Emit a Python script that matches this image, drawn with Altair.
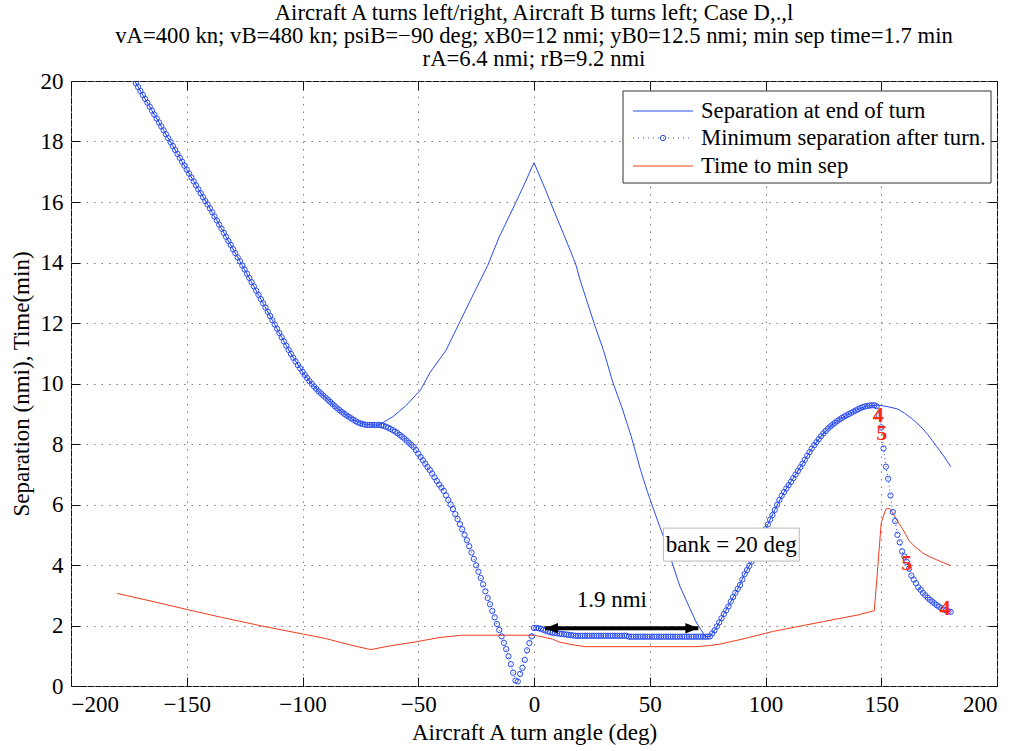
import altair as alt
import pandas as pd

FONT = "'Liberation Serif', 'Times New Roman', Times, 'Nimbus Roman', 'DejaVu Serif', serif"
BLUE = "#2a4cf0"
RED = "#f03c1e"
FS = 23

# ---------------- data ----------------
# Minimum separation after turn (circles), one value per degree from -172 to 180
ms_x = list(range(-172, 181))
ms_y = [
    19.93, 19.80, 19.67, 19.54, 19.41, 19.28, 19.15, 19.02, 18.89, 18.76, 18.63, 18.50, 18.37, 18.24, 18.11,
    17.98, 17.85, 17.72, 17.59, 17.46, 17.33, 17.20, 17.07, 16.94, 16.81, 16.68, 16.55, 16.42, 16.29, 16.16,
    16.03, 15.92, 15.79, 15.66, 15.52, 15.39, 15.25, 15.12, 14.98, 14.85, 14.71, 14.58, 14.44, 14.31, 14.17,
    14.04, 13.90, 13.77, 13.63, 13.49, 13.35, 13.21, 13.07, 12.93, 12.79, 12.65, 12.51, 12.37, 12.23, 12.09,
    11.95, 11.81, 11.67, 11.53, 11.39, 11.25, 11.11, 10.98, 10.85, 10.73, 10.61, 10.50, 10.39, 10.28, 10.18,
    10.08, 9.99, 9.90, 9.82, 9.74, 9.67, 9.60, 9.53, 9.46, 9.39, 9.32, 9.25, 9.18, 9.12, 9.06,
    9.00, 8.95, 8.90, 8.85, 8.80, 8.75, 8.71, 8.68, 8.66, 8.64, 8.63, 8.63, 8.63, 8.63, 8.63,
    8.63, 8.62, 8.60, 8.57, 8.54, 8.50, 8.46, 8.41, 8.36, 8.30, 8.24, 8.18, 8.11, 8.04, 7.97,
    7.90, 7.80, 7.68, 7.57, 7.46, 7.35, 7.24, 7.14, 7.02, 6.90, 6.78, 6.66, 6.56, 6.45, 6.30,
    6.15, 6.00, 5.85, 5.68, 5.52, 5.35, 5.18, 5.00, 4.82, 4.62, 4.41, 4.20, 3.99, 3.78, 3.57,
    3.36, 3.13, 2.91, 2.70, 2.48, 2.27, 2.05, 1.85, 1.64, 1.43, 1.22, 0.98, 0.72, 0.44, 0.18,
    0.15, 0.40, 0.60, 0.86, 1.18, 1.42, 1.64, 1.92, 1.92, 1.91, 1.89, 1.86, 1.83, 1.80, 1.78,
    1.76, 1.75, 1.74, 1.73, 1.72, 1.71, 1.70, 1.69, 1.68, 1.67, 1.66, 1.66, 1.66, 1.66, 1.66,
    1.66, 1.66, 1.66, 1.66, 1.66, 1.66, 1.66, 1.66, 1.66, 1.66, 1.66, 1.66, 1.66, 1.66, 1.66,
    1.66, 1.66, 1.66, 1.63, 1.63, 1.63, 1.63, 1.63, 1.63, 1.63, 1.63, 1.63, 1.63, 1.63, 1.63,
    1.63, 1.63, 1.63, 1.63, 1.63, 1.63, 1.63, 1.63, 1.63, 1.63, 1.63, 1.63, 1.63, 1.63, 1.63,
    1.63, 1.63, 1.63, 1.63, 1.63, 1.63, 1.63, 1.63, 1.64, 1.74, 1.84, 1.97, 2.10, 2.24, 2.38,
    2.50, 2.63, 2.79, 2.94, 3.08, 3.21, 3.34, 3.52, 3.70, 3.83, 3.97, 4.11, 4.29, 4.47, 4.65,
    4.83, 5.00, 5.18, 5.34, 5.50, 5.65, 5.82, 5.99, 6.15, 6.29, 6.41, 6.53, 6.64, 6.75, 6.87,
    6.99, 7.11, 7.23, 7.35, 7.48, 7.61, 7.73, 7.85, 7.96, 8.06, 8.16, 8.26, 8.35, 8.43, 8.51,
    8.58, 8.64, 8.70, 8.76, 8.81, 8.86, 8.91, 8.95, 8.99, 9.03, 9.07, 9.11, 9.15, 9.19, 9.22,
    9.24, 9.26, 9.27, 9.28, 9.28, 9.25, 8.95, 8.55, 7.85, 7.25, 6.85, 6.30, 5.75, 5.45, 5.00,
    4.75, 4.45, 4.28, 4.10, 3.88, 3.65, 3.52, 3.40, 3.26, 3.18, 3.08, 3.00, 2.92, 2.85, 2.79,
    2.73, 2.67, 2.62, 2.57, 2.53, 2.50, 2.47, 2.45,
]

# Separation at end of turn (solid blue line)
se_x = [-174, -172, -165, -157, -150, -141, -135, -126, -120, -112, -105, -100, -97, -93, -89,
        -85, -81, -77, -74, -70, -67, -61, -55, -49, -45, -38, -32, -26, -20, -15, -9, -5, 0,
        5, 10, 13, 18, 20, 26, 30, 34, 38, 42, 46, 49, 53, 56, 60, 63, 67, 70, 74, 76, 78, 80,
        82, 85, 88, 91, 94, 97, 100, 104, 108, 112, 116, 120, 124, 128, 132, 136, 140, 144, 148,
        150, 153, 157, 160, 163, 165, 168, 170, 172, 174, 177, 180]
se_y = [20.19, 19.93, 19.02, 17.98, 17.07, 15.92, 15.12, 13.90, 13.07, 11.95, 10.98, 10.39, 10.08, 9.74, 9.46,
        9.18, 8.95, 8.75, 8.66, 8.63, 8.63, 8.90, 9.29, 9.79, 10.35, 11.10, 12.04, 12.98, 13.90, 14.85, 15.80, 16.45, 17.30,
        16.40, 15.45, 14.90, 13.95, 13.40, 11.98, 11.10, 10.05, 9.20, 8.25, 7.15, 6.42, 5.55, 4.92, 4.00, 3.30, 2.62, 2.12, 1.63, 1.64, 1.84, 2.10,
        2.38, 2.79, 3.21, 3.70, 4.11, 4.65, 5.18, 5.82, 6.41, 6.87, 7.35, 7.85, 8.26, 8.58, 8.81, 8.99, 9.15, 9.26, 9.28,
        9.27, 9.23, 9.16, 9.02, 8.85, 8.72, 8.50, 8.32, 8.12, 7.91, 7.60, 7.25]

# Time to min sep (red line)
tm_x = [-180, -165, -150, -135, -118, -100, -90, -80, -71, -70, -62, -51, -41, -31, -25,
        0, 5, 8, 11, 17, 22, 70, 75, 80, 90, 103, 125, 140, 147, 150,
        152, 153.5, 155, 157, 159.5, 162, 165, 168, 171, 174, 177, 180]
tm_y = [3.06, 2.80, 2.53, 2.27, 1.99, 1.72, 1.57, 1.37, 1.21, 1.21, 1.33, 1.46, 1.60, 1.68, 1.68,
        1.68, 1.60, 1.55, 1.45, 1.36, 1.30, 1.30, 1.33, 1.38, 1.55, 1.80, 2.13, 2.35, 2.49, 5.40,
        5.85, 5.87, 5.72, 5.45, 5.16, 4.80, 4.58, 4.39, 4.27, 4.17, 4.07, 3.98]

# red index labels on the minimum-separation curve
lab_text = ["4", "5", "5", "4"]
lab_x = [148.7, 150.2, 161.0, 177.5]
lab_y = [8.96, 8.35, 4.06, 2.57]

x_ticks = [-200, -150, -100, -50, 0, 50, 100, 150, 200]
y_ticks = [0, 2, 4, 6, 8, 10, 12, 14, 16, 18, 20]

title_lines = [
    "Aircraft A turns left/right, Aircraft B turns left; Case D,.,l",
    "vA=400 kn; vB=480 kn; psiB=\u221290 deg; xB0=12 nmi; yB0=12.5 nmi; min sep time=1.7 min",
    "rA=6.4 nmi; rB=9.2 nmi",
]

legend_labels = ["Separation at end of turn", "Minimum separation after turn.", "Time to min sep"]

# ---------------- chart ----------------
W, H = 926, 605
xs = alt.Scale(domain=[-200, 200], nice=False, zero=False)
ys = alt.Scale(domain=[0, 20], nice=False, zero=False)

common_axis = dict(domain=False, tickColor="#111", tickWidth=1, tickSize=9, offset=-9,
                   labelFont=FONT, labelFontSize=FS, labelColor="black",
                   titleFont=FONT, titleFontSize=FS, titleFontWeight="normal", titleColor="black",
                   gridColor="#808080", gridDash=[1.5, 6], gridWidth=1)

x_bottom = alt.Axis(values=x_ticks, title="Aircraft A turn angle (deg)", grid=True, labelPadding=7,
                    titlePadding=5, orient="bottom", **common_axis)
y_left = alt.Axis(values=y_ticks, title="Separation (nmi), Time(min)", grid=True, labelPadding=8,
                  titlePadding=7, orient="left", **common_axis)
x_top = alt.Axis(values=x_ticks, title="", grid=False, labels=False, orient="top", **common_axis)
y_right = alt.Axis(values=y_ticks, title="", grid=False, labels=False, orient="right", **common_axis)

se_df = pd.DataFrame({"x": se_x, "y": se_y})
ms_df = pd.DataFrame({"x": ms_x, "y": ms_y})
tm_df = pd.DataFrame({"x": tm_x, "y": tm_y})
lab_df = pd.DataFrame({"x": lab_x, "y": lab_y, "t": lab_text})

sep_line = alt.Chart(se_df).mark_line(color=BLUE, strokeWidth=1, clip=True).encode(
    x=alt.X("x:Q", scale=xs, axis=x_bottom),
    y=alt.Y("y:Q", scale=ys, axis=y_left),
)
time_line = alt.Chart(tm_df).mark_line(color=RED, strokeWidth=1, clip=True).encode(
    x=alt.X("x:Q", scale=xs, axis=x_top),
    y=alt.Y("y:Q", scale=ys, axis=y_right),
)
ms_dots = alt.Chart(ms_df).mark_line(color=BLUE, strokeWidth=1, strokeDash=[1, 3], clip=True).encode(
    x=alt.X("x:Q", scale=xs, axis=None),
    y=alt.Y("y:Q", scale=ys, axis=None),
)
ms_circ = alt.Chart(ms_df).mark_point(shape="circle", filled=False, size=28, strokeWidth=1,
                                       color=BLUE, opacity=1, clip=True).encode(
    x=alt.X("x:Q", scale=xs, axis=None),
    y=alt.Y("y:Q", scale=ys, axis=None),
)
labels = alt.Chart(lab_df).mark_text(font=FONT, fontSize=22, fontWeight="bold", color="#ff2a10").encode(
    x=alt.X("x:Q", scale=xs, axis=None),
    y=alt.Y("y:Q", scale=ys, axis=None),
    text="t:N",
)

# annotation: bank box
bank_df = pd.DataFrame({"x": [55.9], "x2": [114.6], "y": [4.13], "y2": [5.22], "cx": [85.2], "cy": [4.66],
                        "t": ["bank = 20 deg"]})
bank_box = alt.Chart(bank_df).mark_rect(fill="white", stroke="#b8b8b8", strokeWidth=1).encode(
    x=alt.X("x:Q", scale=xs, axis=None), x2="x2:Q",
    y=alt.Y("y:Q", scale=ys, axis=None), y2="y2:Q",
)
bank_txt = alt.Chart(bank_df).mark_text(font=FONT, fontSize=FS, color="black").encode(
    x=alt.X("cx:Q", scale=xs, axis=None), y=alt.Y("cy:Q", scale=ys, axis=None), text="t:N",
)

# annotation: 1.9 nmi double arrow
arr_df = pd.DataFrame({"x": [4.75], "x2": [71.0], "y": [1.91]})
arr_line = alt.Chart(arr_df).mark_rule(color="black", strokeWidth=4).encode(
    x=alt.X("x:Q", scale=xs, axis=None), x2="x2:Q", y=alt.Y("y:Q", scale=ys, axis=None),
)
head_l = alt.Chart(arr_df).mark_point(shape="M0,0L2,-0.8L2,0.8Z", filled=True, size=169, color="black",
                                      opacity=1).encode(
    x=alt.X("x:Q", scale=xs, axis=None), y=alt.Y("y:Q", scale=ys, axis=None),
)
head_r = alt.Chart(arr_df).mark_point(shape="M0,0L-2,-0.8L-2,0.8Z", filled=True, size=169, color="black",
                                      opacity=1).encode(
    x=alt.X("x2:Q", scale=xs, axis=None), y=alt.Y("y:Q", scale=ys, axis=None),
)
nmi_df = pd.DataFrame({"x": [33.6], "y": [2.84], "t": ["1.9 nmi"]})
nmi_txt = alt.Chart(nmi_df).mark_text(font=FONT, fontSize=FS, color="black").encode(
    x=alt.X("x:Q", scale=xs, axis=None), y=alt.Y("y:Q", scale=ys, axis=None), text="t:N",
)

# legend (pixel layout inside the plot area)
one = pd.DataFrame({"k": [0]})
leg_box = alt.Chart(one).mark_rect(fill="white", stroke="#333", strokeWidth=1).encode(
    x=alt.value(552), x2=alt.value(920), y=alt.value(10), y2=alt.value(102))
leg_l1 = alt.Chart(one).mark_rule(color=BLUE, strokeWidth=1).encode(
    x=alt.value(562), x2=alt.value(622), y=alt.value(30))
leg_l2 = alt.Chart(one).mark_rule(color=BLUE, strokeWidth=1, strokeDash=[1, 4]).encode(
    x=alt.value(562), x2=alt.value(622), y=alt.value(57))
leg_c2 = alt.Chart(one).mark_point(shape="circle", filled=False, size=28, strokeWidth=1, color=BLUE,
                                   opacity=1).encode(x=alt.value(592), y=alt.value(57))
leg_l3 = alt.Chart(one).mark_rule(color=RED, strokeWidth=1).encode(
    x=alt.value(562), x2=alt.value(622), y=alt.value(85))
leg_t = [
    alt.Chart(one).mark_text(font=FONT, fontSize=22.7, color="black", align="left", baseline="middle",
                             text=lbl).encode(x=alt.value(630), y=alt.value(yy))
    for lbl, yy in zip(legend_labels, [30, 57, 85])
]

chart = alt.layer(
    sep_line, time_line, ms_dots, ms_circ, bank_box, bank_txt, arr_line, head_l, head_r, nmi_txt,
    labels, leg_box, leg_l1, leg_l2, leg_c2, leg_l3, *leg_t,
).resolve_axis(x="independent", y="independent").properties(
    width=W, height=H,
    autosize=alt.AutoSizeParams(type="none"),
    padding={"left": 71, "top": 81, "right": 26, "bottom": 65},
    title=alt.TitleParams(text=title_lines, font=FONT, fontSize=22.7, fontWeight="normal", color="black",
                          anchor="middle", frame="group", offset=-1, lineHeight=23),
    background="white",
).configure_view(stroke="#111", strokeWidth=1)

chart.save("out.html", embed_options={"renderer": "svg", "actions": False})
